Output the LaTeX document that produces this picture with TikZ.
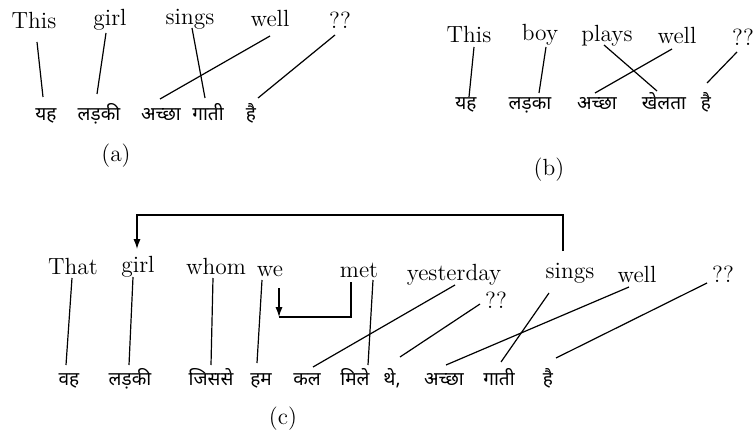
\documentclass[tikz,border=0pt]{standalone}
\usepackage{fontspec}
\newfontfamily\hindi[Script=Devanagari]{Noto Sans}
\usetikzlibrary{arrows.meta}
\begin{document}
\begin{tikzpicture}[x=0.5pt,y=-0.5pt,
  en/.style={anchor=base,inner sep=0pt,font=\fontsize{11.7}{14}\selectfont},
  hi/.style={anchor=base,inner sep=0pt,font=\hindi\fontsize{9.5}{12}\selectfont},
  captxt/.style={anchor=base,inner sep=0pt,font=\fontsize{11.7}{14}\selectfont},
  link/.style={line width=0.6pt},
  arr/.style={line width=0.6pt,-{Latex[length=5pt,width=3.6pt]}}]
\useasboundingbox (0,0) rectangle (755,433);
% (a)
\node[en] (aThis) at (34,29) {This};
\node[en] (agirl) at (110,26) {girl};
\node[en] (asings) at (190,25) {sings};
\node[en] (awell) at (270,27) {well};
\node[en] (aq) at (340,29) {??};
\node[hi] (ayah) at (46,120) {यह};
\node[hi] (aladki) at (99,120) {लड़की};
\node[hi] (aachha) at (161,120) {अच्छा};
\node[hi] (agati) at (208,120) {गाती};
\node[hi] (ahai) at (251,120) {है};
\node[captxt] (capa) at (116,162) {(a)};
\draw[link] ([shift={(3,13)}]aThis.base) -- ([shift={(-3,-23)}]ayah.base);
\draw[link] ([shift={(-4,7)}]agirl.base) -- ([shift={(-2,-26)}]aladki.base);
\draw[link] ([shift={(2,3)}]asings.base) -- ([shift={(-3,-22)}]agati.base);
\draw[link] ([shift={(0,9)}]awell.base) -- ([shift={(-1,-21)}]aachha.base);
\draw[link] ([shift={(-5,6)}]aq.base) -- ([shift={(7,-22)}]ahai.base);
% (b)
\node[en] (bThis) at (469,43) {This};
\node[en] (bboy) at (540,41) {boy};
\node[en] (bplays) at (607,42) {plays};
\node[en] (bwell) at (677,44) {well};
\node[en] (bq) at (743,46) {??};
\node[hi] (byah) at (466,110) {यह};
\node[hi] (bladka) at (530,110) {लड़का};
\node[hi] (bachha) at (597,110) {अच्छा};
\node[hi] (bkhelta) at (664,110) {खेलता};
\node[hi] (bhai) at (706,110) {है};
\node[captxt] (capb) at (549,176) {(b)};
\draw[link] ([shift={(5,4)}]bThis.base) -- ([shift={(3,-13)}]byah.base);
\draw[link] ([shift={(6,6)}]bboy.base) -- ([shift={(9,-17)}]bladka.base);
\draw[link] ([shift={(-3,3)}]bplays.base) -- ([shift={(-7,-19)}]bkhelta.base);
\draw[link] ([shift={(-5,5)}]bwell.base) -- ([shift={(-2,-17)}]bachha.base);
\draw[link] ([shift={(-6,6)}]bq.base) -- ([shift={(1,-27)}]bhai.base);
% (c)
\node[en] (cThat) at (73,274) {That};
\node[en] (cgirl) at (138,272) {girl};
\node[en] (cwhom) at (216,274) {whom};
\node[en] (cwe) at (270,276) {we};
\node[en] (cmet) at (359,277) {met};
\node[en] (cyest) at (454,280) {yesterday};
\node[en] (cq1) at (496,308) {??};
\node[en] (csings) at (570,278) {sings};
\node[en] (cwell) at (637,282) {well};
\node[en] (cq2) at (723,282) {??};
\node[hi] (cvah) at (69,385) {वह};
\node[hi] (cladki) at (130,385) {लड़की};
\node[hi] (cjisse) at (211,385) {जिससे};
\node[hi] (cham) at (261,385) {हम};
\node[hi] (ckal) at (307,385) {कल};
\node[hi] (cmile) at (355,385) {मिले};
\node[hi] (cthe) at (392,385) {थे,};
\node[hi] (cachha) at (444,385) {अच्छा};
\node[hi] (cgati) at (499,385) {गाती};
\node[hi] (chai) at (548,385) {है};
\node[captxt] (capc) at (283,424) {(c)};
\draw[link] ([shift={(-1,4)}]cThat.base) -- ([shift={(-3,-20)}]cvah.base);
\draw[link] ([shift={(-5,5)}]cgirl.base) -- ([shift={(-1,-20)}]cladki.base);
\draw[link] ([shift={(-3,4)}]cwhom.base) -- ([shift={(0,-20)}]cjisse.base);
\draw[link] ([shift={(-8,4)}]cwe.base) -- ([shift={(-4,-22)}]cham.base);
\draw[link] ([shift={(14,3)}]cmet.base) -- ([shift={(13,-20)}]cmile.base);
\draw[link] ([shift={(1,5)}]cyest.base) -- ([shift={(6,-18)}]ckal.base);
\draw[link] ([shift={(-16,-4)}]cq1.base) -- ([shift={(8,-28)}]cthe.base);
\draw[link] ([shift={(-21,15)}]csings.base) -- ([shift={(2,-23)}]cgati.base);
\draw[link] ([shift={(-8,5)}]cwell.base) -- ([shift={(2,-20)}]cachha.base);
\draw[link] ([shift={(-16,1)}]cq2.base) -- ([shift={(8,-27)}]chai.base);
\draw[arr] ([shift={(-7,-27)}]csings.base) -- ++(0,-36) -| ([shift={(-1,-23)}]cgirl.base);
\draw[link] ([shift={(-8,5)}]cmet.base) |- ([shift={(9,41)}]cwe.base);
\draw[arr] ([shift={(9,12)}]cwe.base) -- ([shift={(9,41)}]cwe.base);
\end{tikzpicture}
\end{document}
